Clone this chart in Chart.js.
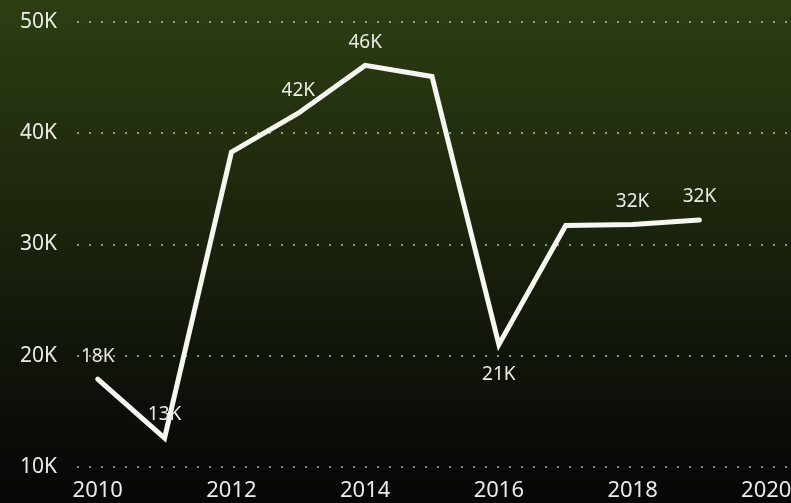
<!DOCTYPE html>
<html>
<head>
<meta charset="utf-8">
<script src="https://cdn.jsdelivr.net/npm/chart.js@4/dist/chart.umd.min.js"></script>
<style>
    html, body {
        margin: 0;
        padding: 0;
    }
    body {
        width: 791px;
        height: 503px;
        overflow: hidden;
        background: linear-gradient(to bottom, #2d3e13 0%, #1f2a0d 35%, #10150a 70%, #060606 100%);
    }
    #wrap {
        position: relative;
        width: 791px;
        height: 503px;
    }
</style>
</head>
<body>
<div id="wrap"><canvas id="trendChart"></canvas></div>
<script>
const years = [2010, 2011, 2012, 2013, 2014, 2015, 2016, 2017, 2018, 2019];
const values = [17900, 12600, 38300, 41800, 46100, 45100, 21000, 31700, 31800, 32200];
const pointLabels = ['18K', '13K', '', '42K', '46K', '', '21K', '', '32K', '32K'];
const labelSide = ['up', 'up', '', 'up', 'up', '', 'down', '', 'up', 'up'];
const yTicks = [10000, 20000, 30000, 40000, 50000];

const FONT = "'Noto Sans', 'Open Sans', sans-serif";

// value labels next to the line
const valueLabels = {
    id: 'valueLabels',
    afterDatasetsDraw(chart) {
        const ctx = chart.ctx;
        const meta = chart.getDatasetMeta(0);
        ctx.save();
        ctx.font = '19px ' + FONT;
        ctx.fillStyle = '#ececE6';
        ctx.textAlign = 'center';
        ctx.textBaseline = 'middle';
        meta.data.forEach(function(pt, i) {
            if (!pointLabels[i]) return;
            const dy = labelSide[i] === 'down' ? 30 : -23;
            ctx.fillText(pointLabels[i], pt.x, pt.y + dy);
        });
        ctx.restore();
    }
};

const ctx = document.getElementById('trendChart').getContext('2d');

new Chart(ctx, {
    type: 'line',
    data: {
        datasets: [{
            data: years.map((y, i) => ({ x: y, y: values[i] })),
            borderColor: '#f7f7f2',
            borderWidth: 5,
            pointRadius: 0,
            tension: 0,
            borderCapStyle: 'round',
            borderJoinStyle: 'miter'
        }]
    },
    options: {
        responsive: true,
        maintainAspectRatio: false,
        animation: false,
        layout: {
            padding: { top: 22, right: 0, bottom: 0, left: 0 }
        },
        plugins: {
            legend: { display: false },
            tooltip: { enabled: false }
        },
        scales: {
            x: {
                type: 'linear',
                min: 2009.69,
                max: 2020.37,
                afterFit: function(scale) {
                    scale.height = 36;
                    scale.paddingLeft = 0;
                    scale.paddingRight = 0;
                },
                ticks: {
                    stepSize: 2,
                    includeBounds: false,
                    color: '#ececE6',
                    padding: 11,
                    maxRotation: 0,
                    font: { family: FONT, size: 22 },
                    callback: v => String(v)
                },
                border: { display: false },
                grid: { display: false, drawTicks: false }
            },
            y: {
                min: 10000,
                max: 50000,
                afterBuildTicks: function(scale) {
                    scale.ticks = yTicks.map(v => ({ value: v }));
                },
                afterFit: function(scale) {
                    scale.width = 77;
                    scale.paddingTop = 0;
                    scale.paddingBottom = 0;
                },
                ticks: {
                    color: '#ececE6',
                    padding: 20,
                    font: { family: FONT, size: 21 },
                    callback: v => (v / 1000) + 'K'
                },
                border: { display: false, dash: [2, 10] },
                grid: {
                    color: 'rgba(225, 230, 200, 0.6)',
                    lineWidth: 2,
                    drawTicks: false
                }
            }
        }
    },
    plugins: [valueLabels]
});
</script>
</body>
</html>
